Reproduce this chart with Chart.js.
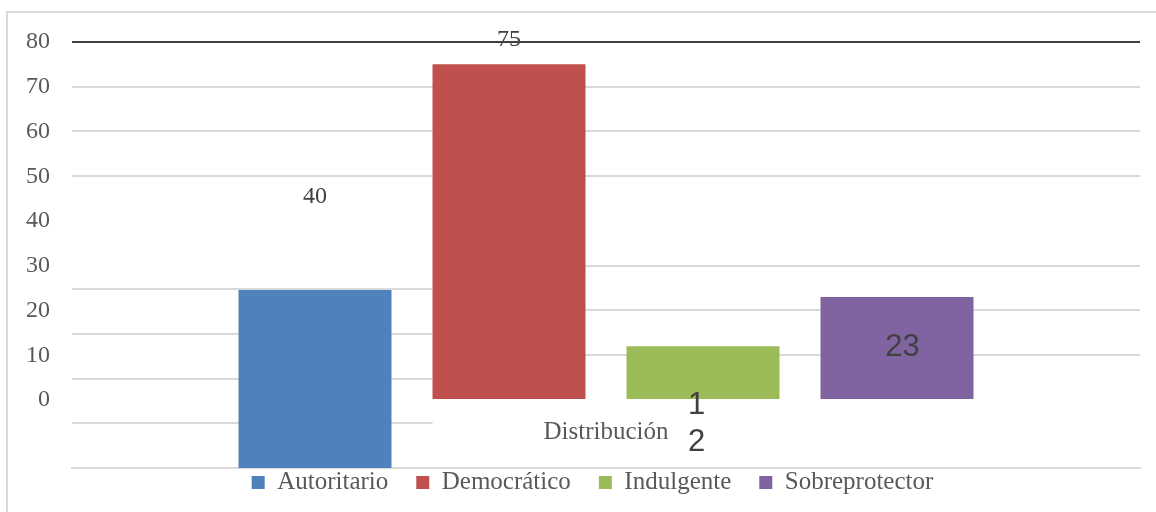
<!DOCTYPE html>
<html><head><meta charset="utf-8">
<script src="https://cdn.jsdelivr.net/npm/chart.js@4.4.0/dist/chart.umd.min.js"></script>
<style>
html,body{margin:0;padding:0;background:#fff;overflow:hidden}
#wrap{position:relative;width:1156px;height:512px;overflow:hidden;background:#fff}
#frame{position:absolute;left:6px;top:11px;width:1200px;height:600px;border-left:2px solid #d9d9d9;border-top:2px solid #d9d9d9;pointer-events:none}
canvas{position:absolute;left:0;top:0}
</style></head><body>
<div id="wrap"><canvas id="c" width="1156" height="512"></canvas><div id="frame"></div></div>
<script>
// ---- data ----
const categories = ['Distribución'];
const seriesNames = ['Autoritario', 'Democrático', 'Indulgente', 'Sobreprotector'];
const seriesValues = [40, 75, 12, 23];
const barStarts = [-15.4, 0, 0, 0];          // the Autoritario bar is drawn starting below the axis in the source
const yTickValues = [0, 10, 20, 30, 40, 50, 60, 70, 80];
const yMin = -15.2, yMax = 80;

// ---- styles ----
const seriesColors = ['#4F81BD', '#C0504D', '#9BBB59', '#8064A2'];
const labelModes = ['above', 'above', 'belowStacked', 'inside'];
const fullGridTicks = [80, 70, 60, 50];
const splitGridTicks = [30, 20, 10];
const leftSplitTicks = [30, 20, 10, 0];
const leftShift = 5.25;
const SERIF = '"Liberation Serif", "Times New Roman", serif';
const SANS = '"Liberation Sans", Arial, sans-serif';

const datasets = seriesNames.map((name, i) => ({
  label: name,
  data: [[barStarts[i], barStarts[i] + seriesValues[i]]],
  backgroundColor: seriesColors[i],
  borderWidth: 0,
  categoryPercentage: 0.7266,
  barPercentage: 0.7887
}));

const splitGridPlugin = {
  id: 'splitGrid',
  beforeDatasetsDraw(chart) {
    const ctx = chart.ctx, ys = chart.scales.y, ca = chart.chartArea;
    const red = chart.getDatasetMeta(1).data[0];
    const splitX = red.x - red.width / 2;
    ctx.save();
    ctx.strokeStyle = '#d9d9d9';
    ctx.lineWidth = 2;
    splitGridTicks.forEach(v => {
      const y = Math.round(ys.getPixelForValue(v));
      ctx.beginPath(); ctx.moveTo(splitX, y); ctx.lineTo(ca.right, y); ctx.stroke();
    });
    leftSplitTicks.forEach(v => {
      const y = Math.round(ys.getPixelForValue(v - leftShift));
      ctx.beginPath(); ctx.moveTo(ca.left, y); ctx.lineTo(splitX, y); ctx.stroke();
    });
    ctx.restore();
  }
};

const valueLabelPlugin = {
  id: 'valueLabels',
  afterDatasetsDraw(chart) {
    const ctx = chart.ctx, ys = chart.scales.y, xs = chart.scales.x;
    chart.data.datasets.forEach((ds, i) => {
      const bar = chart.getDatasetMeta(i).data[0];
      const v = seriesValues[i];
      const txt = String(v);
      ctx.save();
      ctx.fillStyle = '#404040';
      ctx.textAlign = 'center';
      ctx.textBaseline = 'middle';
      const mode = labelModes[i];
      if (mode === 'above') {
        ctx.font = '24px ' + SERIF;
        ctx.fillText(txt, bar.x, ys.getPixelForValue(v) - 24.5);
      } else if (mode === 'inside') {
        ctx.font = '31px ' + SANS;
        ctx.fillText(txt, bar.x + 5.5, (bar.y + bar.base) / 2 - 1);
      } else {
        ctx.font = '31px ' + SANS;
        txt.split('').forEach((ch, k) => ctx.fillText(ch, bar.x - 6.5, bar.base + 6 + k * 37.5));
      }
      ctx.restore();
    });
    // category label (drawn inside the plot area, as in the source)
    ctx.save();
    ctx.fillStyle = '#595959';
    ctx.textAlign = 'center';
    ctx.textBaseline = 'middle';
    ctx.font = '25px ' + SERIF;
    chart.data.labels.forEach((lab, j) => ctx.fillText(lab, xs.getPixelForValue(j), chart.chartArea.bottom - 36));
    ctx.restore();
  }
};

const legendShiftPlugin = {
  id: 'legendShift',
  afterLayout(chart) {
    const lg = chart.legend;
    if (!lg) return;
    const pad = chart.options.plugins.legend.labels.padding;
    lg.top = chart.chartArea.bottom + 2 - pad;
    lg.bottom = chart.height;
    lg.height = lg.bottom - lg.top;
    lg.left = 45;
    lg.right = chart.chartArea.right;
    lg.width = lg.right - lg.left;
  }
};

new Chart(document.getElementById('c'), {
  type: 'bar',
  data: { labels: categories, datasets },
  options: {
    responsive: false,
    animation: false,
    devicePixelRatio: 1,
    layout: { padding: { left: 0, right: 16, top: 42, bottom: 0 } },
    scales: {
      x: {
        grid: { display: true, drawOnChartArea: false, drawTicks: false, color: 'transparent' },
        border: { display: true, color: '#d9d9d9', width: 2 },
        ticks: { display: false },
        afterFit(s) { s.height = 0; }
      },
      y: {
        min: yMin, max: yMax,
        afterBuildTicks(s) { s.ticks = yTickValues.map(v => ({ value: v })); },
        afterFit(s) { s.width = 72; },
        border: { display: false },
        grid: {
          drawTicks: false,
          color: c => c.tick && c.tick.value === 80 ? '#404040' : (fullGridTicks.includes(c.tick && c.tick.value) ? '#d9d9d9' : 'rgba(0,0,0,0)'),
          lineWidth: 2
        },
        ticks: { font: { family: SERIF, size: 24 }, color: '#595959', padding: 22 }
      }
    },
    plugins: {
      legend: {
        position: 'bottom',
        maxHeight: 44,
        labels: { boxWidth: 13, boxHeight: 13, padding: 28, color: '#595959', font: { family: SERIF, size: 25 } }
      },
      tooltip: { enabled: false }
    }
  },
  plugins: [splitGridPlugin, valueLabelPlugin, legendShiftPlugin]
});
</script>
</body></html>
